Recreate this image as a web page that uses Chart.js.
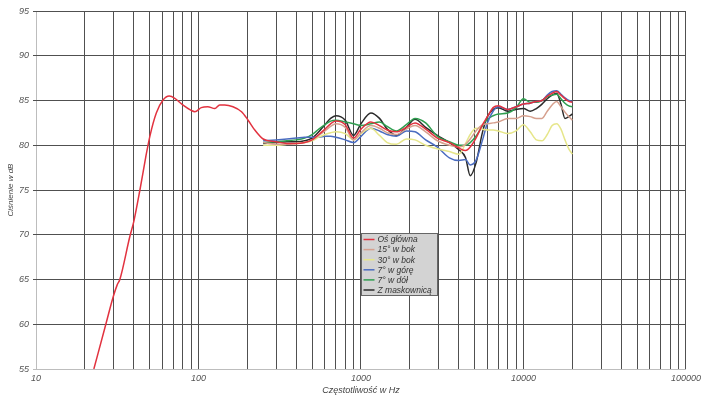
<!DOCTYPE html>
<html>
<head>
<meta charset="utf-8">
<script src="https://cdn.jsdelivr.net/npm/chart.js@4.4.0/dist/chart.umd.min.js"></script>
<style>
  html, body { margin: 0; padding: 0; background: #fff; }
  #wrap { width: 705px; height: 398px; }
</style>
</head>
<body>
<div id="wrap"><canvas id="chart" width="705" height="398"></canvas></div>
<script>
// low-frequency part of the main axis curve (Hz / dB)
const lowFreqs = [22.7, 26.9, 29.9, 31.6, 32.8, 37.8, 40, 43.6, 47.5, 50.2, 55, 60.5, 66, 71.5, 80, 90, 95, 104, 114, 126, 135, 145, 163, 184, 202, 222];
const mainLow = [55, 60, 63.1, 64.4, 65, 69.8, 71.5, 75, 78.8, 81, 83.6, 85.05, 85.5, 85.25, 84.5, 83.9, 83.75, 84.2, 84.3, 84.1, 84.5, 84.5, 84.3, 83.75, 82.8, 81.7];

// shared frequencies for all measurements, 250 Hz - 20 kHz
const freqs = [250, 300, 350, 400, 450, 500, 550, 600, 650, 700,
  800, 900, 1000, 1150, 1300, 1450, 1650, 1900, 2150, 2500,
  2950, 3500, 4000, 4400, 4700, 5100, 5600, 6000, 6500, 7000,
  8000, 9000, 10000, 11000, 12000, 13000, 14000, 15000, 16000, 17000,
  18000, 19000, 20000];

const mainAxis = [80.7, 80.4, 80.2, 80.2, 80.3, 80.6, 81.2, 81.8, 82.4, 82.7,
  82.3, 80.8, 81.8, 82.6, 82.2, 81.7, 81.5, 82.0, 82.5, 81.8,
  80.8, 80.3, 79.7, 79.4, 79.8, 80.8, 82.3, 83.2, 84.2, 84.4,
  84.0, 84.3, 84.6, 84.7, 84.9, 85.0, 85.5, 85.8, 86.0, 85.6,
  85.2, 84.9, 84.8];
const side15 = [80.3, 80.1, 80.1, 80.2, 80.3, 80.6, 81.1, 81.6, 82.1, 82.4,
  82.0, 80.6, 81.4, 82.2, 81.9, 81.4, 81.2, 81.8, 82.2, 81.5,
  80.5, 80.0, 79.8, 80.1, 80.7, 81.6, 82.3, 82.4, 82.5, 82.6,
  83.0, 83.0, 83.3, 83.2, 83.0, 83.0, 83.8, 84.5, 84.9, 84.3,
  83.7, 83.2, 82.8];
const side30 = [80.0, 80.0, 80.1, 80.2, 80.3, 80.5, 80.9, 81.2, 81.4, 81.5,
  81.3, 80.6, 81.3, 81.9, 81.1, 80.3, 80.1, 80.7, 80.6, 80.0,
  79.6, 79.3, 79.0, 80.2, 81.2, 81.9, 81.8, 81.7, 81.7, 81.6,
  81.3, 81.6, 82.3, 81.5, 80.6, 80.5, 81.2, 82.2, 82.4, 81.8,
  80.6, 79.6, 79.0];
const up7 = [80.5, 80.6, 80.7, 80.8, 80.9, 80.9, 80.9, 81.0, 81.0, 80.9,
  80.6, 80.3, 81.0, 81.9, 81.6, 81.2, 81.0, 81.6, 81.5, 80.6,
  79.8, 78.6, 78.3, 78.4, 77.8, 78.3, 80.6, 82.5, 83.8, 84.3,
  84.0, 84.3, 84.6, 84.7, 84.9, 85.0, 85.6, 86.0, 86.1, 85.7,
  85.3, 85.0, 84.9];
const down7 = [80.3, 80.4, 80.5, 80.6, 80.8, 81.2, 81.8, 82.3, 82.7, 82.8,
  82.6, 82.4, 82.2, 82.4, 82.6, 82.1, 81.6, 82.3, 83.0, 82.5,
  81.0, 80.4, 80.0, 80.0, 80.3, 81.0, 82.2, 82.9, 83.3, 83.5,
  83.6, 84.2, 85.2, 84.8, 84.8, 85.0, 85.4, 85.6, 85.7, 85.2,
  84.7, 84.4, 84.3];
const withGrille = [80.2, 80.3, 80.4, 80.4, 80.5, 80.8, 81.5, 82.3, 83.0, 83.3,
  82.8, 81.1, 82.4, 83.6, 83.0, 81.8, 81.1, 82.0, 82.9, 82.0,
  81.1, 80.3, 79.5, 78.6, 76.6, 78.0, 81.5, 83.2, 84.0, 84.2,
  83.8, 84.0, 84.1, 83.8, 84.1, 84.6, 85.2, 85.6, 85.8, 84.6,
  83.0, 83.2, 83.5];

const seriesNames = ['Oś główna', '15° w bok', '30° w bok', '7° w górę', '7° w dół', 'Z maskownicą'];
const seriesColors = ['#e2323f', '#d6a08e', '#e6e68a', '#4a6cc0', '#2f9e4f', '#2a2a2a'];
const xMajor = [10, 100, 1000, 10000, 100000];

// vertical grid lines: 1..9 per decade
const xGrid = [];
for (let d = 10; d < 100000; d *= 10) {
  for (let m = 1; m < 10; m++) xGrid.push(d * m);
}
xGrid.push(100000);

function pts(xs, ys) {
  return xs.map((f, i) => ({ x: f, y: ys[i] }));
}

const seriesData = [
  pts(lowFreqs.concat(freqs), mainLow.concat(mainAxis)),
  pts(freqs, side15),
  pts(freqs, side30),
  pts(freqs, up7),
  pts(freqs, down7),
  pts(freqs, withGrille)
];

const font = { family: '"Liberation Sans", Arial, sans-serif', size: 9, style: 'italic' };

// legend drawn as a grey box inside the plot
const boxLegend = {
  id: 'boxLegend',
  afterDatasetsDraw(chart) {
    const ctx = chart.ctx;
    const left = Math.round(chart.scales.x.getPixelForValue(1000)) + 0.5;
    const top = 233.5;
    const w = 76, h = 62;
    ctx.save();
    ctx.fillStyle = '#d3d3d3';
    ctx.fillRect(left, top, w, h);
    ctx.strokeStyle = '#666';
    ctx.lineWidth = 1;
    ctx.strokeRect(left, top, w, h);
    ctx.font = 'italic 8.5px "Liberation Sans", Arial, sans-serif';
    ctx.textBaseline = 'middle';
    chart.data.datasets.forEach((ds, i) => {
      const yy = top + 6 + i * 10.1;
      ctx.strokeStyle = ds.borderColor;
      ctx.lineWidth = 1.5;
      ctx.beginPath();
      ctx.moveTo(left + 2, yy);
      ctx.lineTo(left + 13, yy);
      ctx.stroke();
      ctx.fillStyle = '#333';
      ctx.fillText(ds.label, left + 16, yy + 0.5);
    });
    ctx.restore();
  }
};

new Chart(document.getElementById('chart'), {
  type: 'line',
  data: {
    datasets: seriesNames.map((name, i) => ({
      label: name,
      data: seriesData[i],
      borderColor: seriesColors[i],
      backgroundColor: seriesColors[i],
      borderWidth: 1.5,
      pointRadius: 0,
      cubicInterpolationMode: 'monotone',
      fill: false
    }))
  },
  options: {
    responsive: false,
    animation: false,
    devicePixelRatio: 1,
    layout: { padding: { top: 11, right: 18, bottom: 2, left: 0 } },
    plugins: {
      legend: { display: false },
      tooltip: { enabled: false }
    },
    scales: {
      x: {
        type: 'logarithmic',
        min: 10,
        max: 100000,
        afterBuildTicks(scale) {
          scale.ticks = xGrid.map(v => ({ value: v }));
        },
        afterFit(scale) { scale.height = 27; },
        ticks: {
          autoSkip: false,
          maxRotation: 0,
          padding: 4,
          color: '#555',
          font: font,
          callback: v => xMajor.includes(v) ? String(v) : ''
        },
        grid: {
          drawTicks: false,
          color: c => (c.tick && c.tick.value === 10) ? '#bdbdbd' : '#505050',
          lineWidth: 1
        },
        border: { display: false },
        title: {
          display: true,
          text: 'Częstotliwość w Hz',
          color: '#444',
          font: font,
          padding: { top: 0, bottom: 0 }
        }
      },
      y: {
        min: 55,
        max: 95,
        afterFit(scale) { scale.width = 36; },
        ticks: {
          stepSize: 5,
          padding: 4,
          color: '#555',
          font: font
        },
        grid: {
          tickLength: 3,
          color: c => (c.tick && c.tick.value === 55) ? '#bdbdbd' : '#505050',
          lineWidth: 1
        },
        border: { display: false },
        title: {
          display: true,
          text: 'Ciśnienie w dB',
          color: '#444',
          font: { family: font.family, size: 8, style: 'italic' },
          padding: { top: 6, bottom: 0 }
        }
      }
    }
  },
  plugins: [boxLegend]
});
</script>
</body>
</html>
